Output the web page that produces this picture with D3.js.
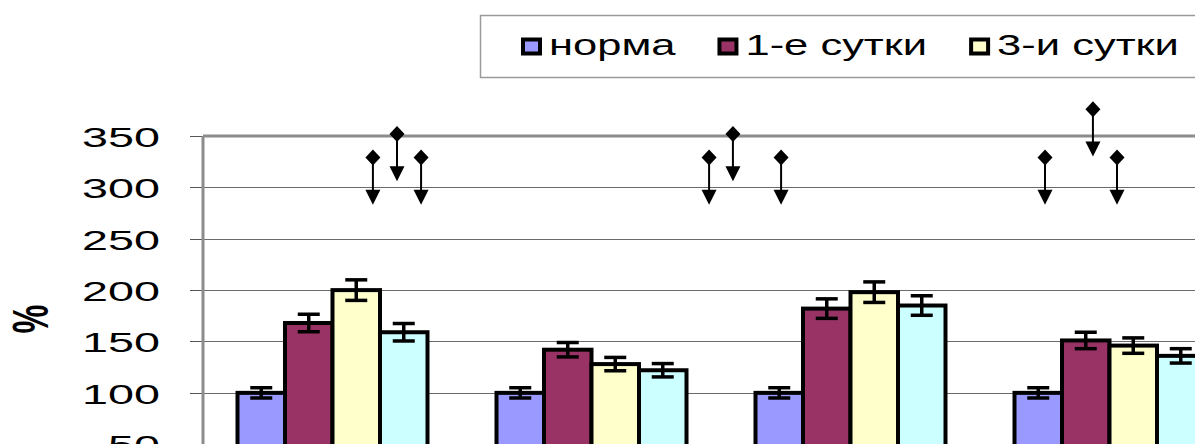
<!DOCTYPE html>
<html lang="ru">
  <head>
    <meta charset="utf-8">
    <title>Динамика, %</title>
    <script type="text/javascript" src="https://d3js.org/d3.v7.min.js"></script>
    <style type="text/css">
      body {
        margin: 0;
        background: #ffffff;
      }

      svg {
        display: block;
        font-family: "Liberation Sans", Arial, sans-serif;
      }

      .grid {
        stroke: #6a6a6a;
        stroke-width: 1;
        shape-rendering: crispEdges;
      }

      .tick-mark {
        stroke: #555555;
        stroke-width: 1;
        shape-rendering: crispEdges;
      }

      .frame {
        stroke: #8c8c8c;
        stroke-width: 3;
        fill: none;
      }

      .tick-label {
        font-size: 28px;
        fill: #000000;
        text-anchor: end;
      }

      .legend-label {
        font-size: 29px;
        fill: #000000;
      }

      .bar {
        stroke: #000000;
        stroke-width: 4;
      }

      .err {
        stroke: #000000;
        stroke-width: 3.5;
      }

      .arrow-stem {
        stroke: #000000;
        stroke-width: 2;
      }
    </style>
  </head>

  <body>
    <svg id="chart" width="1195" height="444"></svg>

    <script type="text/javascript">

    // data

    const categories = ['I', 'II', 'III', 'IV'];
    const seriesNames = ['норма', '1-е сутки', '3-и сутки', '7-е сутки'];
    const seriesColors = ['#9999ff', '#993366', '#ffffcc', '#ccffff'];

    const normaValues = [100, 100, 100, 100];
    const normaErrors = [5, 5, 5, 5];
    const day1Values = [168, 142, 182, 151];
    const day1Errors = [8.5, 7, 9.5, 8];
    const day3Values = [200, 128, 198, 146];
    const day3Errors = [10, 6.5, 10, 7.5];
    const day7Values = [159, 122, 185, 136];
    const day7Errors = [8.5, 6.5, 9.5, 7];

    // diamond markers with downward arrows (x in category units)
    const markerX = [0.656, 0.749, 0.842, 1.954, 2.046, 2.232, 3.251, 3.436, 3.529];
    const markerY = [329, 352, 329, 329, 352, 329, 329, 376, 329];
    const markerMinus = [46, 46, 46, 46, 46, 46, 46, 46, 46];

    const yTicks = [50, 100, 150, 200, 250, 300, 350];
    const gridTicks = [50, 100, 150, 200, 250, 300];

    // layout

    const width = 1195;
    const height = 444;

    const plot = {
      left: 203,
      top: 136,
      bottom: 495.6,
      step: 259
    };

    const svg = d3.select('#chart');

    const values = [normaValues, day1Values, day3Values, day7Values];
    const errors = [normaErrors, day1Errors, day3Errors, day7Errors];

    // scales
    const y = d3.scaleLinear()
      .domain([0, 350])
      .range([plot.bottom, plot.top]);

    const x0 = d3.scaleBand()
      .domain(categories)
      .range([plot.left, plot.left + plot.step * categories.length])
      .padding(0);

    const gap = 69;
    const x1 = d3.scaleBand()
      .domain(seriesNames)
      .range([gap / 2, plot.step - gap / 2]);

    const xLin = d3.scaleLinear()
      .domain([0, categories.length])
      .range([plot.left, plot.left + plot.step * categories.length]);

    const crisp = v => Math.round(v) + 0.5;

    // gridlines
    svg.append('g')
      .selectAll('line')
      .data(gridTicks)
      .join('line')
      .attr('class', 'grid')
      .attr('x1', plot.left)
      .attr('x2', width)
      .attr('y1', d => crisp(y(d)))
      .attr('y2', d => crisp(y(d)));

    // tick marks
    svg.append('g')
      .selectAll('line')
      .data(yTicks)
      .join('line')
      .attr('class', 'tick-mark')
      .attr('x1', plot.left - 13)
      .attr('x2', plot.left)
      .attr('y1', d => crisp(y(d)))
      .attr('y2', d => crisp(y(d)));

    // tick labels, stretched like the original
    svg.append('g')
      .selectAll('text')
      .data(yTicks)
      .join('text')
      .attr('class', 'tick-label')
      .attr('transform', d => 'translate(160,' + (y(d) + 11) + ') scale(1.67,1)')
      .text(d => d);

    // axis title
    svg.append('text')
      .attr('transform', 'translate(31,319) rotate(-90) scale(1.3,2)')
      .attr('text-anchor', 'middle')
      .attr('dominant-baseline', 'central')
      .style('font-size', '25px')
      .style('font-weight', 'bold')
      .text('%');

    // bars
    const groups = svg.append('g')
      .selectAll('g')
      .data(categories)
      .join('g')
      .attr('transform', d => 'translate(' + x0(d) + ',0)');

    groups.selectAll('rect')
      .data((c, i) => seriesNames.map((s, j) => ({s: s, j: j, v: values[j][i], e: errors[j][i]})))
      .join('rect')
      .attr('class', 'bar')
      .attr('x', d => x1(d.s))
      .attr('width', x1.bandwidth())
      .attr('y', d => y(d.v))
      .attr('height', d => y(0) - y(d.v))
      .attr('fill', d => seriesColors[d.j]);

    // error bars
    const capW = 22;
    const errG = groups.selectAll('g.errbar')
      .data((c, i) => seriesNames.map((s, j) => ({s: s, v: values[j][i], e: errors[j][i]})))
      .join('g')
      .attr('class', 'errbar')
      .attr('transform', d => 'translate(' + (x1(d.s) + x1.bandwidth() / 2) + ',0)');

    errG.append('line')
      .attr('class', 'err')
      .attr('x1', 0).attr('x2', 0)
      .attr('y1', d => y(d.v + d.e))
      .attr('y2', d => y(d.v - d.e));

    errG.selectAll('line.cap')
      .data(d => [d.v + d.e, d.v - d.e])
      .join('line')
      .attr('class', 'err cap')
      .attr('x1', -capW / 2).attr('x2', capW / 2)
      .attr('y1', d => y(d))
      .attr('y2', d => y(d));

    // frame: left axis and top border
    svg.append('line')
      .attr('class', 'frame')
      .attr('x1', plot.left).attr('x2', plot.left)
      .attr('y1', plot.top).attr('y2', height);

    svg.append('line')
      .attr('class', 'frame')
      .attr('x1', plot.left).attr('x2', width)
      .attr('y1', y(350)).attr('y2', y(350));

    // markers with arrows
    const markers = markerX.map((mx, i) => ({x: mx, top: markerY[i], minus: markerMinus[i]}));
    const headH = 15;
    const headW = 15;

    const mg = svg.append('g')
      .selectAll('g')
      .data(markers)
      .join('g')
      .attr('transform', d => 'translate(' + xLin(d.x) + ',0)');

    mg.append('line')
      .attr('class', 'arrow-stem')
      .attr('x1', 0).attr('x2', 0)
      .attr('y1', d => y(d.top))
      .attr('y2', d => y(d.top - d.minus) - headH + 1);

    mg.append('path')
      .attr('fill', '#000')
      .attr('d', d => {
        const tip = y(d.top - d.minus);
        return 'M0,' + tip + 'L' + (headW / 2) + ',' + (tip - headH) + 'L' + (-headW / 2) + ',' + (tip - headH) + 'Z';
      });

    mg.append('path')
      .attr('fill', '#000')
      .attr('d', d => {
        const c = y(d.top);
        return 'M0,' + (c - 8) + 'L7.5,' + c + 'L0,' + (c + 8) + 'L-7.5,' + c + 'Z';
      });

    // legend
    const legend = svg.append('g');

    legend.append('rect')
      .attr('x', 480.5)
      .attr('y', 15.5)
      .attr('width', 800)
      .attr('height', 62)
      .attr('fill', '#ffffff')
      .attr('stroke', '#9a9a9a')
      .attr('stroke-width', 1.5);

    const legendScale = 1.5;
    let lx = 521;
    seriesNames.slice(0, 3).forEach((name, i) => {
      legend.append('rect')
        .attr('x', lx + 2)
        .attr('y', 39.5)
        .attr('width', 17)
        .attr('height', 14)
        .attr('fill', seriesColors[i])
        .attr('stroke', '#000')
        .attr('stroke-width', 4);

      const t = legend.append('text')
        .attr('class', 'legend-label')
        .attr('transform', 'translate(' + (lx + 28) + ',55) scale(' + legendScale + ',1)')
        .text(name);

      lx = lx + 28 + t.node().getComputedTextLength() * legendScale + 42;
    });

    </script>
  </body>
</html>
